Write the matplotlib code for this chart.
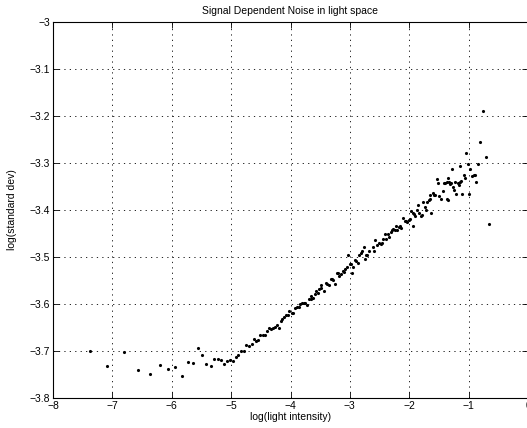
import matplotlib
matplotlib.use("Agg")
import matplotlib.pyplot as plt

plt.rcParams['font.family'] = ['Liberation Sans', 'DejaVu Sans']

# log(light intensity) and log(standard dev)
light = [
    -7.378, -7.087, -6.801, -6.566, -6.369, -6.201, -6.061, -5.938, -5.826, -5.731,
    -5.641, -5.563, -5.490, -5.417, -5.344, -5.283, -5.227, -5.171, -5.115, -5.064,
    -5.014, -4.969, -4.924, -4.879, -4.834, -4.790, -4.745, -4.706,
    -4.655, -4.622, -4.577, -4.543, -4.510, -4.465, -4.437, -4.398, -4.364, -4.330,
    -4.297, -4.263, -4.230, -4.196, -4.168, -4.140, -4.106, -4.073, -4.039, -4.017,
    -3.983, -3.961, -3.927, -3.893, -3.860, -3.837, -3.804, -3.781, -3.748, -3.714,
    -3.692, -3.658, -3.658, -3.624, -3.591, -3.568, -3.535, -3.512, -3.479, -3.440,
    -3.479, -3.400, -3.378, -3.356, -3.322, -3.300, -3.277, -3.255, -3.221, -3.199,
    -3.176, -3.143, -3.120, -3.098, -3.075, -3.042, -3.031, -2.997, -2.986, -2.963,
    -2.941, -2.919, -2.896, -2.863, -2.840, -2.818, -2.795, -2.762, -2.750, -2.728,
    -2.706, -2.683,
    -2.616, -2.593, -2.571, -2.549, -2.515, -2.481, -2.459, -2.436, -2.414, -2.392,
    -2.358, -2.336, -2.313, -2.291, -2.268, -2.246, -2.224, -2.201, -2.179, -2.156,
    -2.134, -2.112, -2.078, -2.056, -2.033, -2.011, -1.988, -1.966, -1.944, -1.944,
    -1.921, -1.899, -1.876, -1.854, -1.831, -1.809, -1.787, -1.764, -1.742, -1.719,
    -1.697, -1.675, -1.652, -1.630, -1.652, -1.608, -1.585, -1.563, -1.540, -1.518,
    -1.495, -1.473, -1.439, -1.417, -1.395, -1.372, -1.372, -1.350,
    -1.339, -1.328, -1.317, -1.294,
    -1.283, -1.261, -1.249, -1.227, -1.205, -1.171, -1.160, -1.149, -1.126, -1.137,
    -1.104, -1.081, -1.059, -1.036, -1.014, -0.992, -0.980, -0.947, -0.913, -0.891,
    -0.868, -0.835, -0.801, -0.756, -0.712, -0.656,
]
std_dev = [
    -3.700, -3.732, -3.703, -3.740, -3.748, -3.730, -3.738, -3.735, -3.754, -3.724,
    -3.726, -3.694, -3.708, -3.727, -3.732, -3.718, -3.716, -3.720, -3.727, -3.721,
    -3.720, -3.721, -3.712, -3.709, -3.701, -3.699, -3.688, -3.689,
    -3.686, -3.675, -3.679, -3.677, -3.665, -3.667, -3.667, -3.657, -3.652, -3.653,
    -3.650, -3.648, -3.645, -3.650, -3.637, -3.631, -3.628, -3.624, -3.623, -3.614,
    -3.619, -3.619, -3.609, -3.607, -3.606, -3.600, -3.597, -3.597, -3.597, -3.602,
    -3.589, -3.590, -3.582, -3.587, -3.578, -3.572, -3.577, -3.568, -3.567, -3.573,
    -3.559, -3.556, -3.558, -3.559, -3.546, -3.547, -3.549, -3.558, -3.533, -3.533,
    -3.540, -3.537, -3.529, -3.531, -3.526, -3.521, -3.496, -3.514, -3.514, -3.533,
    -3.522, -3.506, -3.508, -3.512, -3.496, -3.491, -3.488, -3.478, -3.505, -3.496,
    -3.495, -3.488,
    -3.478, -3.488, -3.464, -3.475, -3.470, -3.472, -3.471, -3.461, -3.451, -3.461,
    -3.450, -3.457, -3.447, -3.443, -3.440, -3.443, -3.434, -3.443, -3.437, -3.434,
    -3.438, -3.416, -3.423, -3.423, -3.426, -3.421, -3.420, -3.403, -3.433, -3.407,
    -3.409, -3.413, -3.400, -3.390, -3.406, -3.413, -3.410, -3.383, -3.393, -3.399,
    -3.384, -3.379, -3.376, -3.406, -3.369, -3.363, -3.369, -3.369, -3.335, -3.343,
    -3.370, -3.377, -3.360, -3.342, -3.342, -3.340, -3.377, -3.379,
    -3.332, -3.340, -3.345, -3.342,
    -3.312, -3.350, -3.357, -3.340, -3.365, -3.343, -3.346, -3.340, -3.338, -3.306,
    -3.365, -3.325, -3.331, -3.278, -3.302, -3.365, -3.312, -3.328, -3.325, -3.325,
    -3.340, -3.302, -3.255, -3.190, -3.287, -3.430,
]

fig = plt.figure(figsize=(5.27, 4.28), dpi=100)
ax = fig.add_axes([53 / 527, 30 / 428, 475 / 527, 376 / 428])

ax.plot(light, std_dev, 'k.', markersize=2.5)

ax.set_xlim(-8, 0)
ax.set_ylim(-3.8, -3)
ax.set_xticks(range(-8, 1))
ax.set_yticks([-3.8, -3.7, -3.6, -3.5, -3.4, -3.3, -3.2, -3.1, -3])
ax.set_yticklabels(['−3.8', '−3.7', '−3.6', '−3.5', '−3.4', '−3.3', '−3.2', '−3.1', '−3'])
ax.grid(True, linestyle=(0, (1.5, 5)), color='black', linewidth=0.6)
ax.tick_params(direction='in', top=True, right=True, length=4, width=0.6,
               labelsize=7.5, pad=2)
for s in ax.spines.values():
    s.set_linewidth(0.8)

ax.set_title('Signal Dependent Noise in light space', fontsize=7.5, pad=6)
ax.set_xlabel('log(light intensity)', fontsize=7.5, labelpad=1)
ax.set_ylabel('log(standard dev)', fontsize=7.5, labelpad=9)

fig.savefig('out.png', dpi=100)
